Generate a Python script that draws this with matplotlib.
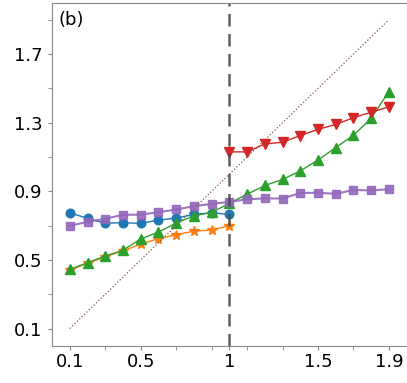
import matplotlib
matplotlib.use("Agg")
import matplotlib.pyplot as plt
import numpy as np

x_left = [0.1, 0.2, 0.3, 0.4, 0.5, 0.6, 0.7, 0.8, 0.9, 1.0]
x_right = [1.0, 1.1, 1.2, 1.3, 1.4, 1.5, 1.6, 1.7, 1.8, 1.9]
x_all = [0.1, 0.2, 0.3, 0.4, 0.5, 0.6, 0.7, 0.8, 0.9, 1.0,
         1.1, 1.2, 1.3, 1.4, 1.5, 1.6, 1.7, 1.8, 1.9]

blue_circles = [0.775, 0.742, 0.714, 0.717, 0.713, 0.732, 0.744, 0.765, 0.775, 0.765]
orange_stars = [0.44, 0.48, 0.518, 0.553, 0.592, 0.624, 0.647, 0.668, 0.674, 0.699]
green_triangles = [0.445, 0.484, 0.522, 0.557, 0.622, 0.662, 0.715, 0.757, 0.777, 0.83,
                   0.883, 0.934, 0.969, 1.019, 1.082, 1.155, 1.227, 1.325, 1.482]
red_triangles = [1.13, 1.13, 1.176, 1.186, 1.225, 1.261, 1.29, 1.329, 1.361, 1.393]
purple_squares = [0.699, 0.722, 0.740, 0.763, 0.764, 0.778, 0.794, 0.813, 0.827, 0.838,
                  0.853, 0.859, 0.858, 0.890, 0.892, 0.885, 0.908, 0.905, 0.912]
diag_x = [0.1, 1.9]
diag_y = [0.1, 1.9]

xticks = [0.1, 0.5, 1, 1.5, 1.9]
xticklabels = ["0.1", "0.5", "1", "1.5", "1.9"]
yticks = [0.1, 0.5, 0.9, 1.3, 1.7]
yticklabels = ["0.1", "0.5", "0.9", "1.3", "1.7"]

plt.rcParams['font.family'] = ['DejaVu Sans']
fig = plt.figure(figsize=(4.07, 3.83), dpi=100)
ax = fig.add_axes([0.128, 0.0975, 0.871, 0.8955])

ms = 6.2
ax.plot(x_left, blue_circles, color='tab:blue', marker='o', ms=ms, lw=1)
ax.plot(x_left, orange_stars, color='tab:orange', marker='*', ms=ms + 1, lw=1)
ax.plot(x_all, green_triangles, color='tab:green', marker='^', ms=ms + 1, lw=1)
ax.plot(x_right, red_triangles, color='tab:red', marker='v', ms=ms + 1, lw=1)
ax.plot(x_all, purple_squares, color='tab:purple', marker='s', ms=ms, lw=1.5, alpha=0.9)
ax.plot(diag_x, diag_y, color='tab:brown', ls=':', lw=0.9)
ax.axvline(1.0, color='#444444', ls=(0, (5, 3)), lw=1.8, alpha=0.85)

ax.set_xlim(0, 2)
ax.set_ylim(0, 2)
ax.set_xticks(xticks)
ax.set_xticklabels(xticklabels)
ax.set_yticks(yticks)
ax.set_yticklabels(yticklabels)
ax.set_xticks(np.arange(0.3, 1.8, 0.2), minor=True)
ax.set_yticks(np.arange(0.3, 2.0, 0.4), minor=True)
ax.tick_params(axis='both', which='major', labelsize=13, length=3, color='#888888')
ax.tick_params(axis='x', which='major', pad=2)
ax.tick_params(axis='y', which='major', pad=4)
ax.tick_params(axis='both', which='minor', length=3, color='#888888')
for s in ax.spines.values():
    s.set_color('#888888')
ax.text(0.017, 0.975, "(b)", transform=ax.transAxes, fontsize=13, va='top', ha='left')

fig.savefig("out.png", dpi=100)
